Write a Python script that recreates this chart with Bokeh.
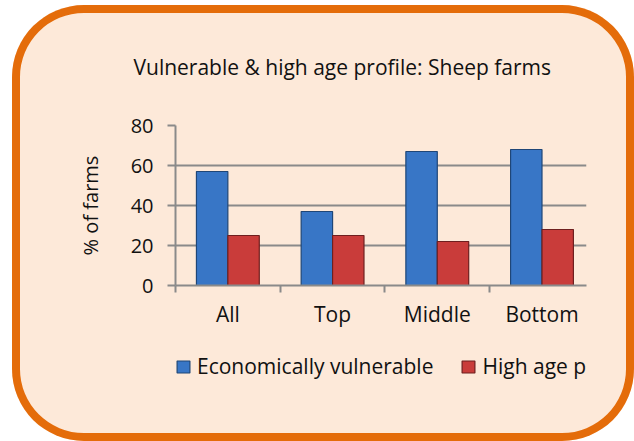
from bokeh.plotting import figure
from bokeh.layouts import column
from bokeh.models import ColumnDataSource, FixedTicker, Legend, LegendItem, Range1d
from bokeh.embed import file_html
from bokeh.resources import INLINE

# ---- data ----
categories = ["All", "Top", "Middle", "Bottom"]
vulnerable = [57, 37, 67, 68]
high_age = [25, 25, 22, 28]
y_ticks = [0, 20, 40, 60, 80]
series_names = ["Economically vulnerable", "High age profile"]
title_text = "Vulnerable & high age profile: Sheep farms"
y_label = "% of farms"

FONT = "Open Sans"
GRID = "#8A8A8A"
BAR_W = 0.3
BLUE, BLUE_EDGE = "#3876C6", "#1F4677"
RED, RED_EDGE = "#C93C3A", "#6E1F1F"

centers = [i + 0.5 for i in range(len(categories))]
src = ColumnDataSource(dict(
    cat=categories,
    xb=[c - BAR_W / 2 for c in centers],
    xr=[c + BAR_W / 2 for c in centers],
    v=vulnerable,
    h=high_age,
))

# ---------------- chart ----------------
p = figure(width=622, height=345, output_backend="svg", toolbar_location=None,
           x_range=Range1d(0, 3.925), y_range=Range1d(0, 80),
           min_border_left=163, min_border_right=48,
           min_border_top=120, min_border_bottom=65,
           background_fill_color=None, border_fill_color=None,
           outline_line_color=None)

p.title.text = title_text
p.title.align = "left"
p.title.offset = -42
p.title.text_font = FONT
p.title.text_font_size = "21px"
p.title.text_font_style = "normal"
p.title.text_color = "#111111"
p.title.standoff = 90

rb = p.vbar(x="xb", top="v", width=BAR_W, source=src,
            fill_color=BLUE, line_color=BLUE_EDGE, line_width=1.2)
rr = p.vbar(x="xr", top="h", width=BAR_W, source=src,
            fill_color=RED, line_color=RED_EDGE, line_width=1.2)

p.yaxis.ticker = FixedTicker(ticks=y_ticks)
p.yaxis.axis_label = y_label
p.yaxis.axis_label_text_font = FONT
p.yaxis.axis_label_text_font_size = "20px"
p.yaxis.axis_label_text_font_style = "normal"
p.yaxis.axis_label_text_color = "#111111"
p.yaxis.axis_label_standoff = 24
p.yaxis.major_label_text_font = FONT
p.yaxis.major_label_text_font_size = "20px"
p.yaxis.major_label_text_color = "#111111"
p.yaxis.major_label_standoff = 14
p.yaxis.major_tick_in = 0
p.yaxis.major_tick_out = 8
p.yaxis.minor_tick_line_color = None
p.yaxis.axis_line_color = GRID
p.yaxis.axis_line_width = 2
p.yaxis.major_tick_line_color = GRID
p.yaxis.major_tick_line_width = 2

p.xaxis.ticker = FixedTicker(ticks=centers, minor_ticks=list(range(len(categories))))
p.xaxis.major_label_overrides = {c: lab for c, lab in zip(centers, categories)}
p.xaxis.major_label_text_font = FONT
p.xaxis.major_label_text_font_size = "21px"
p.xaxis.major_label_text_color = "#111111"
p.xaxis.major_label_standoff = 7
p.xaxis.major_tick_line_color = None
p.xaxis.minor_tick_in = 0
p.xaxis.minor_tick_out = 7
p.xaxis.minor_tick_line_color = GRID
p.xaxis.minor_tick_line_width = 2
p.xaxis.axis_line_color = GRID
p.xaxis.axis_line_width = 2

p.xgrid.grid_line_color = None
p.ygrid.ticker = FixedTicker(ticks=y_ticks)
p.ygrid.grid_line_color = GRID
p.ygrid.grid_line_width = 2

# ---------------- legend strip (its bars sit outside its view) ----------------
q = figure(width=622, height=91, output_backend="svg", toolbar_location=None,
           x_axis_type=None, y_axis_type=None,
           x_range=Range1d(10, 13.925), y_range=Range1d(200, 280),
           min_border_left=0, min_border_right=0,
           min_border_top=0, min_border_bottom=0,
           background_fill_color=None, border_fill_color=None,
           outline_line_color=None)
lb = q.vbar(x="xb", top="v", width=BAR_W, source=src,
            fill_color=BLUE, line_color=BLUE_EDGE, line_width=1.2)
lr = q.vbar(x="xr", top="h", width=BAR_W, source=src,
            fill_color=RED, line_color=RED_EDGE, line_width=1.2)

legend = Legend(items=[LegendItem(label=series_names[0], renderers=[lb]),
                       LegendItem(label=series_names[1], renderers=[lr])],
                orientation="horizontal", location=(0, 61),
                glyph_width=16, glyph_height=15, label_height=15,
                label_standoff=6, spacing=27, padding=0, margin=0,
                label_text_font=FONT, label_text_font_size="21px",
                label_text_color="#111111",
                border_line_color=None, background_fill_color=None)
q.add_layout(legend)

layout = column(p, q, spacing=0, margin=(5, 0, -10, 12),
                styles={
                    "background-color": "#FDE9D9",
                    "border-radius": "72px",
                    "box-shadow": "inset 0 0 0 8px #E46C0A",
                })

open("out.html", "w").write(file_html(layout, INLINE))
